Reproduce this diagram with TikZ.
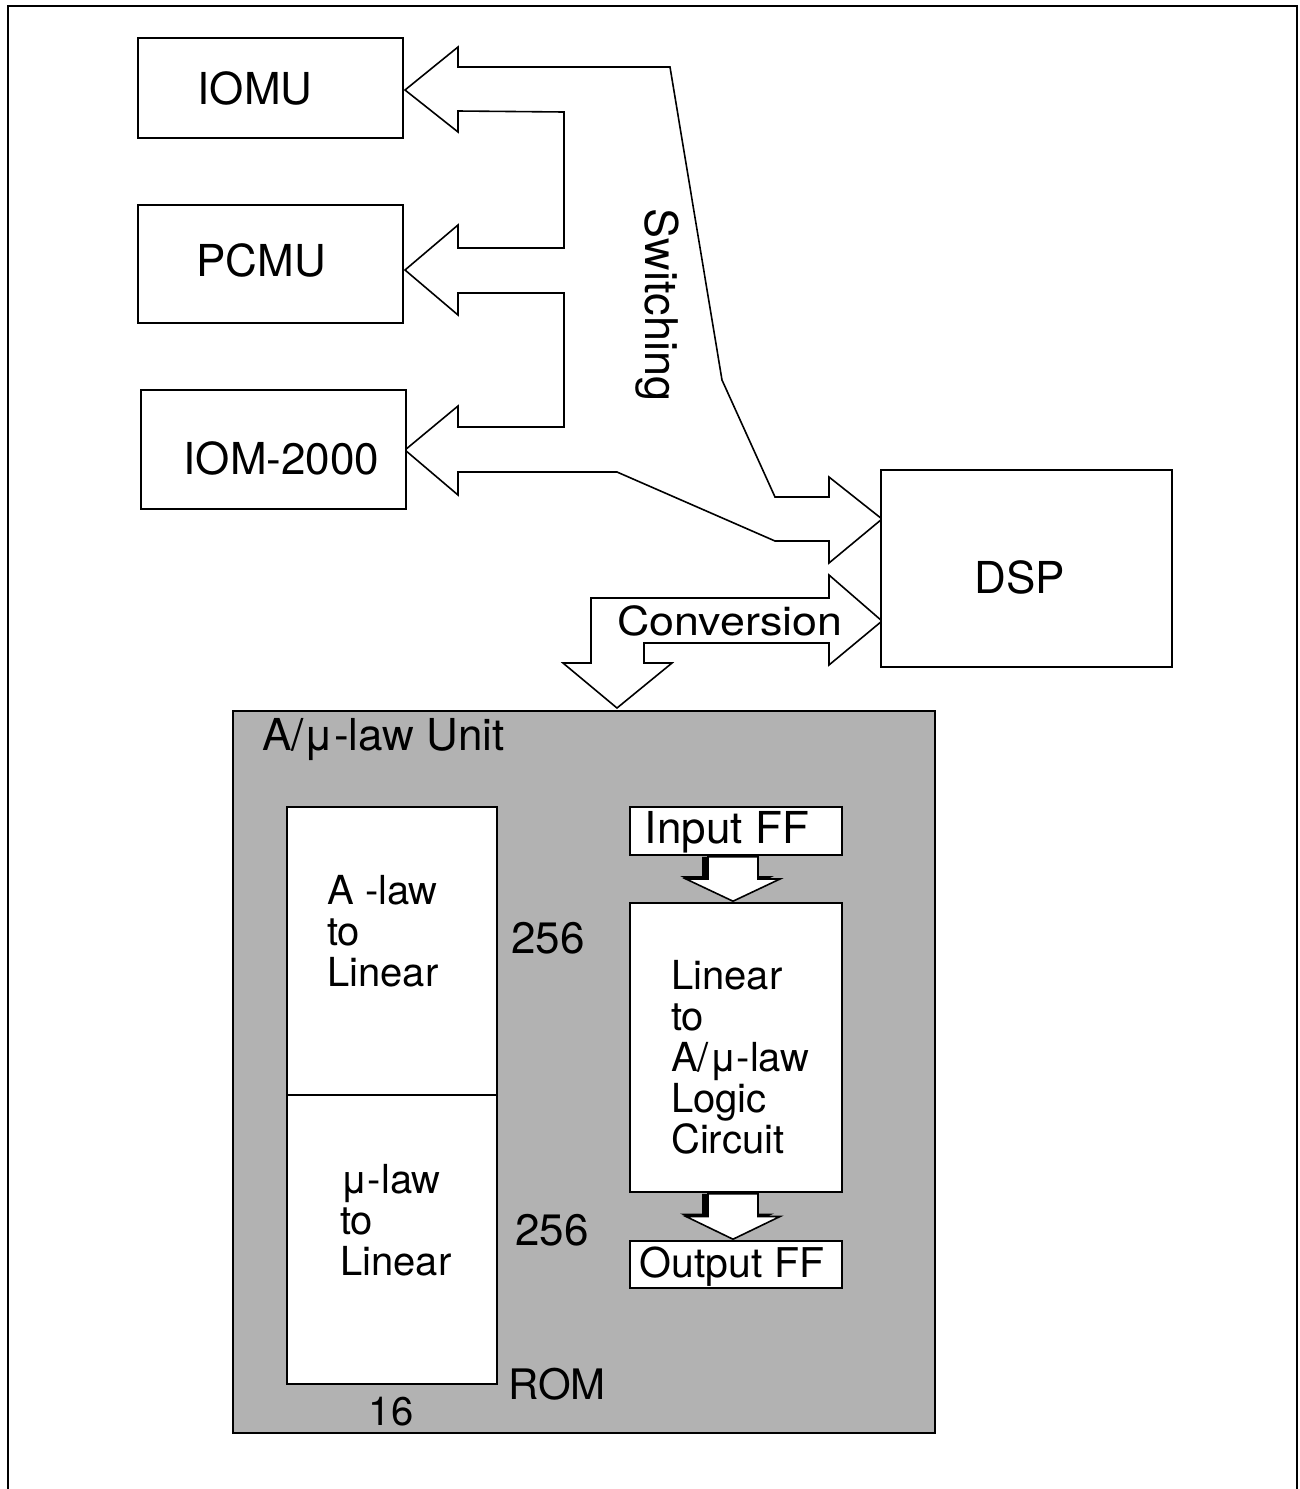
\documentclass[tikz,border=0pt]{standalone}
\usepackage{fontspec}
\setmainfont{TeX Gyre Heros}
\usetikzlibrary{calc}

\definecolor{unitgray}{gray}{0.7}

\begin{document}
\begin{tikzpicture}[x=1pt,y=-1pt,
  box/.style={draw, line width=1.6pt, fill=white, inner sep=0pt},
  lbl/.style={inner sep=0pt, font=\fontsize{44}{44}\selectfont},
  small/.style={inner sep=0pt, align=left, font=\fontsize{40}{41}\selectfont},
  blockarrow/.style={draw, line width=1.6pt, fill=white, line join=miter}]
\useasboundingbox (0,0) rectangle (1299,1489);

% frame
\draw[line width=2.5pt] (8,1489) -- (8,6) -- (1297,6) -- (1297,1489);

% switching block arrow
\draw[blockarrow] (405,90) -- (458,47) -- (458,67) -- (670,67) -- (722,380) -- (775,497)
  -- (829,497) -- (829,477) -- (882,519) -- (829,563) -- (829,541) -- (775,541)
  -- (617,472) -- (458,472) -- (458,495) -- (405,450) -- (458,406) -- (458,427)
  -- (564,427) -- (564,293) -- (458,293) -- (458,315) -- (405,270) -- (458,225)
  -- (458,248) -- (564,248) -- (564,112) -- (458,111) -- (458,132) -- cycle;
\node[lbl, rotate=-90, font=\fontsize{45}{45}\selectfont] (switching) at (657,305) {Switching};

% conversion block arrow
\draw[blockarrow] (617,708) -- (563,663) -- (591,663) -- (591,598) -- (829,598)
  -- (829,575) -- (882,621) -- (829,665) -- (829,643) -- (644,643) -- (644,663)
  -- (672,663) -- cycle;
\node[lbl, font=\fontsize{40}{40}\selectfont, xscale=1.12] (conversion) at (730,621) {Conversion};

% units
\node[box, minimum width=265pt, minimum height=100pt] (iomu) at (270.5,88) {};
\node[box, minimum width=265pt, minimum height=118pt] (pcmu) at (270.5,264) {};
\node[box, minimum width=265pt, minimum height=119pt] (iom) at (273.5,449.5) {};
\node[box, minimum width=291pt, minimum height=197pt] (dsp) at (1026.5,568.5) {};
\node[lbl] (iomutxt) at (255,88) {IOMU};
\node[lbl] (pcmutxt) at (261,260) {PCMU};
\node[lbl] (iomtxt) at (281.5,458) {IOM-2000};
\node[lbl] (dsptxt) at (1020,577) {DSP};

% A/mu-law unit
\node[box, fill=unitgray, line width=2.2pt, minimum width=702pt, minimum height=722pt] (unit) at (584,1072) {};
\node[lbl, anchor=west] (unittxt) at (262,740) {A/μ-law Unit};

\node[box, minimum width=210pt, minimum height=288pt] (roma) at (392,951) {};
\node[box, minimum width=210pt, minimum height=289pt] (romu) at (392,1239.5) {};
\node[small, anchor=west] (romatxt) at (327,931) {A -law\\to\\Linear};
\node[small, anchor=west] (romutxt) at (340,1220) {μ-law\\to\\Linear};
\node[small, font=\fontsize{44}{44}\selectfont] (rowa) at (548,938) {256};
\node[small, font=\fontsize{44}{44}\selectfont] (rowu) at (552,1230) {256};
\node[small, font=\fontsize{42}{42}\selectfont] (romtxt) at (557,1384) {ROM};
\node[small] (coltxt) at (391,1412) {16};

\node[box, minimum width=212pt, minimum height=48pt] (inff) at (736,831) {};
\node[box, minimum width=212pt, minimum height=289pt] (logic) at (736,1047.5) {};
\node[box, minimum width=212pt, minimum height=47pt] (outff) at (736,1264.5) {};
\node[small, font=\fontsize{44}{44}\selectfont] (inftxt) at (727,832) {Input FF};
\node[small, font=\fontsize{41}{41}\selectfont] (outftxt) at (732,1267) {Output FF};
\node[small, anchor=west] (logictxt) at (671,1057) {Linear\\to\\A/μ-law\\Logic\\Circuit};

% small block arrows with shadow
\foreach \from/\to in {inff/logic,logic/outff}{
  \coordinate (s) at ($(\from.south)+(-3,1)$);
  \coordinate (e) at ($(\to.north)+(-3,-1)$);
  \coordinate (m) at ($(s)!0.5!(e)$);
  \fill[black] ($(s)+(-31,0)$) -- ($(m)+(-31,-3)$) -- ($(m)+(-53,-3)$) -- ($(e)+(-6,-3)$)
    -- ($(m)+(41,-3)$) -- ($(m)+(19,-3)$) -- ($(s)+(19,0)$) -- cycle;
  \draw[blockarrow] ($(s)+(-25,0)$) -- ($(m)+(-25,0)$) -- ($(m)+(-47,0)$) -- (e)
    -- ($(m)+(47,0)$) -- ($(m)+(25,0)$) -- ($(s)+(25,0)$) -- cycle;
}

\end{tikzpicture}
\end{document}
